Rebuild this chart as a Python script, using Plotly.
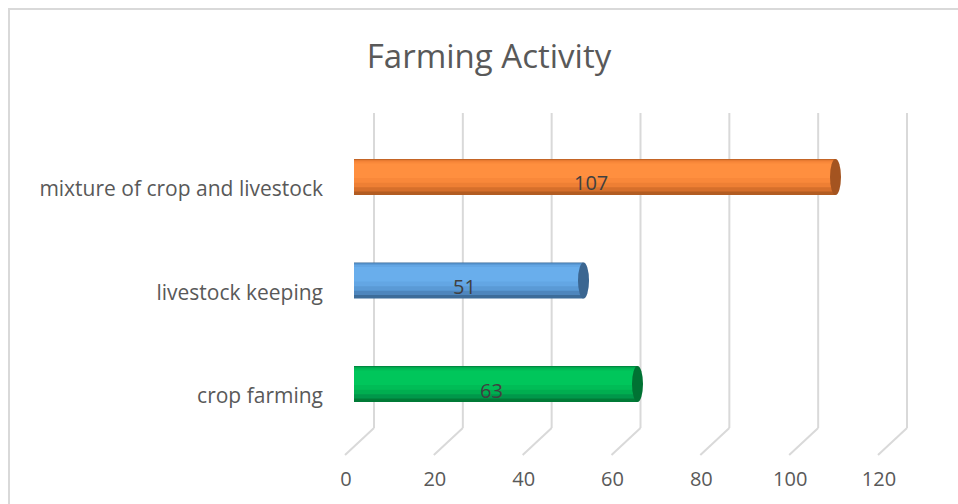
import plotly.graph_objects as go

# ---- data ----
categories = ["crop farming", "livestock keeping", "mixture of crop and livestock"]
values = [63, 51, 107]
tick_vals = [0, 20, 40, 60, 80, 100, 120]
tick_text = ["0", "20", "40", "60", "80", "100", "120"]
title_text = "Farming Activity"

# ---- styles ----
W, H = 958, 504
bar_layers = [  # (offset, width, colors per category)
    (-0.174, 0.348, ["#007A36", "#3D6C99", "#B25C22"]),
    (-0.140, 0.310, ["#00974A", "#4E86BD", "#D66F2B"]),
    (-0.100, 0.262, ["#00AE50", "#5A9AD6", "#EE7F34"]),
    (-0.055, 0.205, ["#00BC56", "#63A6E4", "#F9883A"]),
    (-0.010, 0.140, ["#00C65B", "#69AEEC", "#FF8F3F"]),
]
cap_colors = ["#007233", "#3B6691", "#A45420"]
grid_color = "#D9D9D9"
text_font = "Open Sans"

PX_BACK = (907 - 374) / 120.0  # pixels per unit on back wall axis

fig = go.Figure()
ypos = list(range(len(categories)))
for off, wid, cols in bar_layers:
    fig.add_trace(go.Bar(
        x=values, y=ypos, orientation="h", base=0,
        offset=off, width=wid, marker=dict(color=cols, line=dict(width=0)),
        xaxis="x", yaxis="y", hoverinfo="skip", showlegend=False,
    ))
# invisible traces so that helper axes are rendered
fig.add_trace(go.Scatter(x=[0, 120], y=[0, 0], xaxis="x2", yaxis="y", mode="markers",
                         marker=dict(opacity=0), hoverinfo="skip", showlegend=False))
fig.add_trace(go.Scatter(x=[0, 120], y=[0, 0], xaxis="x3", yaxis="y", mode="markers",
                         marker=dict(opacity=0), hoverinfo="skip", showlegend=False))

shapes = []
# back-wall gridlines and floor lines
for v in tick_vals:
    shapes.append(dict(type="line", xref="x2", yref="paper", x0=v, x1=v, y0=0, y1=1,
                       line=dict(color=grid_color, width=2), layer="below"))
    shapes.append(dict(type="line", xref="x2", xsizemode="pixel", xanchor=v, x0=0, x1=-29,
                       yref="paper", ysizemode="pixel", yanchor=0, y0=0, y1=-27,
                       line=dict(color=grid_color, width=2), layer="below"))
# cylinder end caps
for i, v in enumerate(values):
    shapes.append(dict(type="circle", xref="x", xsizemode="pixel", xanchor=v, x0=-5.5, x1=5.5,
                       yref="y", y0=i - 0.174, y1=i + 0.174,
                       fillcolor=cap_colors[i], line=dict(width=0), layer="above"))
# chart border
shapes.append(dict(type="rect", xref="paper", yref="paper",
                   x0=9 / W, x1=1.05, y0=-0.5, y1=(113 - 9 + 315) / 315,
                   line=dict(color=grid_color, width=2), fillcolor="rgba(0,0,0,0)", layer="below"))

annotations = []
for i, v in enumerate(values):
    annotations.append(dict(x=v / 2, y=i, xref="x", yref="y", text=str(v), showarrow=False,
                            xshift=-4, yshift=-6, font=dict(family=text_font, size=20, color="#404040")))

fig.update_layout(
    width=W, height=H,
    margin=dict(l=0, r=0, t=113, b=76, autoexpand=False),
    paper_bgcolor="white", plot_bgcolor="rgba(0,0,0,0)",
    barmode="overlay",
    title=dict(text=title_text, x=489 / W, xanchor="center", y=1 - 56 / H, yanchor="middle",
               font=dict(family=text_font, size=33, color="#595959"), automargin=False),
    xaxis=dict(domain=[354 / W, 894 / W], range=[0, 120], showgrid=False, zeroline=False,
               showticklabels=False, showline=False, anchor="y", automargin=False),
    xaxis2=dict(domain=[(374 - 8 * PX_BACK) / W, (907 + 4 * PX_BACK) / W], range=[-8, 124],
                showgrid=False, zeroline=False, showticklabels=False, showline=False,
                anchor="y", ticks="", automargin=False),
    xaxis3=dict(domain=[346 / W, 879 / W], range=[0, 120], showgrid=False, zeroline=False,
                tickvals=tick_vals, ticktext=tick_text, ticks="outside", ticklen=33,
                tickcolor="rgba(0,0,0,0)", showline=False, anchor="y", automargin=False,
                tickfont=dict(family=text_font, size=20, color="#595959")),
    yaxis=dict(range=[-0.425, 2.618], tickvals=ypos, ticktext=categories, showgrid=False,
               zeroline=False, showline=False, anchor="free", position=323 / W, ticks="",
               ticklabelshift=12, automargin=False,
               tickfont=dict(family=text_font, size=21, color="#595959")),
    shapes=shapes, annotations=annotations,
)
fig.write_html("out.html")
